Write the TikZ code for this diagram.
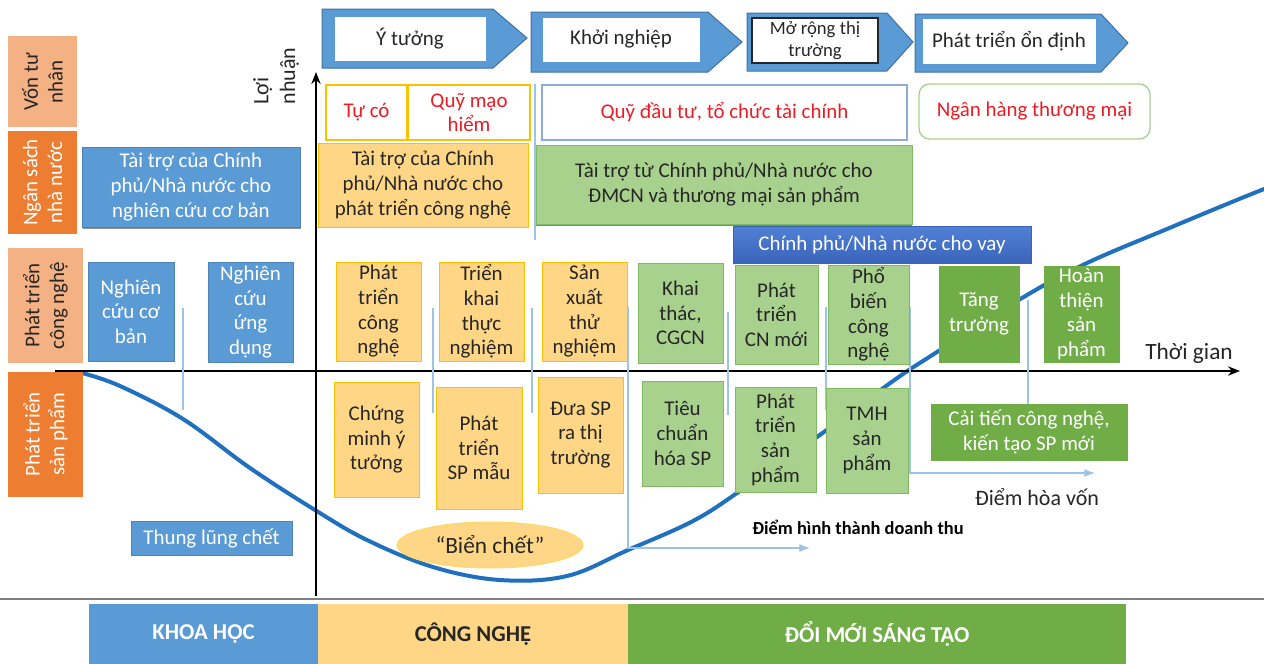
\documentclass[tikz,border=0pt]{standalone}
\usepackage{fontspec}
\setmainfont{Carlito}
\usetikzlibrary{arrows.meta,shapes.geometric,shadows}
\definecolor{sciblue}{RGB}{91,155,213}
\definecolor{scibluedark}{RGB}{65,113,156}
\definecolor{techfill}{RGB}{255,214,133}
\definecolor{techline}{RGB}{255,192,0}
\definecolor{lgreen}{RGB}{169,209,142}
\definecolor{lgreenline}{RGB}{128,186,96}
\definecolor{dgreen}{RGB}{112,173,71}
\definecolor{loantop}{RGB}{80,128,212}
\definecolor{loanbot}{RGB}{58,100,186}
\definecolor{salmon}{RGB}{244,177,131}
\definecolor{orangelab}{RGB}{237,125,49}
\definecolor{curveblue}{RGB}{31,112,190}
\definecolor{thinblue}{RGB}{157,195,230}
\definecolor{fundblue}{RGB}{143,170,220}
\definecolor{txt}{RGB}{38,38,38}
\definecolor{redtxt}{RGB}{236,28,36}
\definecolor{shadowbrown}{RGB}{140,95,50}
\begin{document}
\begin{tikzpicture}[x=0.75pt,y=-0.75pt,
  every node/.style={font=\fontsize{15.7}{18.5}\selectfont, text=txt, align=center, inner sep=0pt},
  % area=left:top:right:bottom places a node over that pixel rectangle
  area/.style args={#1:#2:#3:#4}{at={({(#1+#3)/2},{(#2+#4)/2})},
    minimum width={(#3-#1)*0.75pt}, minimum height={(#4-#2)*0.75pt}},
  box/.style={draw, line width=0.75pt},
  sci/.style={box, fill=sciblue, draw=sciblue!85!black, text=white},
  tech/.style={box, fill=techfill, draw=techline},
  inno/.style={box, fill=lgreen, draw=lgreenline},
  innod/.style={box, fill=dgreen, draw=dgreen, text=white},
  loan/.style={box, top color=loantop, bottom color=loanbot, draw=loanbot, text=white},
  fund/.style={draw, line width=1pt, text=redtxt},
  sidelight/.style={rotate=90, fill=salmon, minimum height=51.75pt},
  sidedark/.style={rotate=90, fill=orangelab, text=white, minimum height=51.75pt},
  thinline/.style={draw=thinblue, line width=0.9pt},
  thinarrow/.style={thinline, -{Latex[length=8pt,width=6pt]}},
  axis/.style={line width=1.6pt, -{Stealth[length=9pt,width=7pt]}},
  stage/.style={fill=sciblue, draw=scibluedark, line width=0.75pt},
  stagein/.style={fill=white, draw=white},
  barlabel/.style={font=\bfseries\fontsize{17}{20}\selectfont},
]
\useasboundingbox (0,0) rectangle (1264,664);
\fill[white] (0,0) rectangle (1264,664);

% profit curve (drawn first so boxes sit on top of it)
\draw[curveblue, line width=3pt, line cap=round] plot[smooth, tension=0.6] coordinates {
  (82,373) (120,386) (183,419) (250,468) (315,510) (367,540) (433,567)
  (500,580) (567,576) (628,550) (693,521) (740,491) (817,437) (893,381)
  (937,352) (1022,298) (1087,263) (1167,229) (1227,204) (1264,189)};

% axes
\coordinate (xo) at (55,371);
\coordinate (xe) at (1240,371);
\coordinate (yo) at (316,596);
\coordinate (ye) at (316,72);
\draw[axis] (xo) -- (xe);
\draw[axis] (yo) -- (ye);
\node[rotate=90, align=left, font=\fontsize{16.5}{20}\selectfont] (profit) at (276,76) {Lợi\\nhuận};
\node[font=\fontsize{17.5}{20}\selectfont] (time) at (1189,353) {Thời gian};

% thin guide lines between phases
\draw[thinline] (183,308) -- (183,410);
\draw[thinline] (433,308) -- (433,413);
\draw[thinline] (532,308) -- (532,413);
\draw[thinline] (535,84) -- (535,240);
\draw[thinline] (728,312) -- (728,415);
\draw[thinline] (826,307) -- (826,410);
\draw[thinline] (1028,300) -- (1028,404);
\coordinate (revA) at (628,307);
\coordinate (revB) at (628,548);
\coordinate (revC) at (810,548);
\draw[thinarrow] (revA) -- (revB) -- (revC);
\coordinate (beA) at (910,307);
\coordinate (beB) at (910,473);
\coordinate (beC) at (1095,473);
\draw[thinarrow] (beA) -- (beB) -- (beC);
\node[font=\bfseries\fontsize{13.8}{16}\selectfont, text=black] (revlab) at (858,527) {Điểm hình thành doanh thu};
\node[font=\fontsize{16.5}{20}\selectfont] (belab) at (1037,497) {Điểm hòa vốn};

% side labels
\node[sidelight, minimum width=68.25pt] (priv) at (42.5,81.5) {Vốn tư\\nhân};
\node[sidedark, minimum width=77.25pt] (budget) at (42.5,182.5) {Ngân sách\\nhà nước};
\node[sidelight, minimum width=86.25pt, minimum height=56.25pt] (techdev) at (45.5,305.5) {Phát triển\\công nghệ};
\node[sidedark, minimum width=93.75pt, minimum height=56.25pt] (proddev) at (45.5,434.5) {Phát triển\\sản phẩm};

% stage arrows
\draw[stage] (322,9) -- (493,9) -- (527,38) -- (493,68) -- (322,68) -- cycle;
\node[stagein, area=335:17:485:60] (s1) {Ý tưởng};
\draw[stage] (531,12) -- (708,12) -- (742,42) -- (708,72) -- (531,72) -- cycle;
\node[stagein, area=543:18:699:61] (s2) {Khởi nghiệp};
\draw[stage] (747,13) -- (887,13) -- (913,42) -- (887,71) -- (747,71) -- cycle;
\node[stagein, draw=black!85, line width=1.2pt, area=752:18:878:63, font=\fontsize{14}{16.5}\selectfont] (s3) {Mở rộng thị\\trường};
\draw[stage] (915,14) -- (1101,14) -- (1128,43) -- (1101,72) -- (915,72) -- cycle;
\node[stagein, area=923:19:1095:63] (s4) {Phát triển ổn định};

% funding sources
\node[fund, draw=techline, area=326:85:407:140] (own) {Tự có};
\node[fund, draw=techline, area=408:85:530:140] (venture) {Quỹ mạo\\hiểm};
\node[fund, draw=fundblue, area=542:85:907:140] (funds) {Quỹ đầu tư, tổ chức tài chính};
\node[fund, draw=lgreen, rounded corners=8pt, area=919:84:1150:139] (bank) {Ngân hàng thương mại};

\node[sci, drop shadow={shadow xshift=0.6pt, shadow yshift=-1.5pt, fill=black!60, opacity=0.7}, area=82:147:300:227] (grantsci) {Tài trợ của Chính\\phủ/Nhà nước cho\\nghiên cứu cơ bản};
\node[tech, area=318:143:528:227] (granttech) {Tài trợ của Chính\\phủ/Nhà nước cho\\phát triển công nghệ};
\node[inno, drop shadow={shadow xshift=0pt, shadow yshift=-1.5pt, fill=shadowbrown, opacity=0.8}, area=536:145:912:224] (grantinno) {Tài trợ từ Chính phủ/Nhà nước cho\\ĐMCN và thương mại sản phẩm};
\node[loan, area=733:226:1031:263] (loan) {Chính phủ/Nhà nước cho vay};

% technology development row
\node[sci, area=88:262:174:361] (basic) {Nghiên\\cứu cơ\\bản};
\node[sci, area=208:262:293:362] (applied) {Nghiên\\cứu\\ứng\\dụng};
\node[tech, area=336:262:421:361] (tdev) {Phát\\triển\\công\\nghệ};
\node[tech, area=439:262:524:361] (pilot) {Triển\\khai\\thực\\nghiệm};
\node[tech, area=542:262:627:361] (trial) {Sản\\xuất\\thử\\nghiệm};
\node[inno, area=638:263:723:363] (exploit) {Khai\\thác,\\CGCN};
\node[inno, area=735:265:818:364] (newtech) {Phát\\triển\\CN mới};
\node[inno, area=828:265:909:364] (spread) {Phổ\\biến\\công\\nghệ};
\node[innod, area=939:266:1019:362] (growth) {Tăng\\trưởng};
\node[innod, area=1044:266:1119:362] (finish) {Hoàn\\thiện\\sản\\phẩm};

% product development row
\node[tech, area=334:382:419:497] (proof) {Chứng\\minh ý\\tưởng};
\node[tech, area=436:387:522:509] (proto) {Phát\\triển\\SP mẫu};
\node[tech, area=538:377:623:493] (launch) {Đưa SP\\ra thị\\trường};
\node[inno, area=642:381:723:486] (standard) {Tiêu\\chuẩn\\hóa SP};
\node[inno, area=735:387:816:492] (pdev) {Phát\\triển\\sản\\phẩm};
\node[inno, area=826:388:908:493] (commerce) {TMH\\sản\\phẩm};
\node[innod, area=931:404:1127:460] (improve) {Cải tiến công nghệ,\\kiến tạo SP mới};

% valley labels
\node[sci, area=131:521:292:555] (valley) {Thung lũng chết};
\node[ellipse, fill=techfill, draw=techline!60, line width=0.75pt, minimum width=139.5pt, minimum height=34.5pt, font=\fontsize{17.5}{20}\selectfont] (sea) at (490,545) {“Biển chết”};

% bottom band
\draw[black!50, line width=1.5pt] (0,599) -- (1264,599);
\node[fill=sciblue, text=white, barlabel, area=89:604:318:664] (science) {KHOA HỌC};
\node[fill=techfill, barlabel, area=318:604:628:664] (technology) {CÔNG NGHỆ};
\node[fill=dgreen, text=white, barlabel, area=628:604:1126:664] (innovation) {ĐỔI MỚI SÁNG TẠO};
\end{tikzpicture}
\end{document}
